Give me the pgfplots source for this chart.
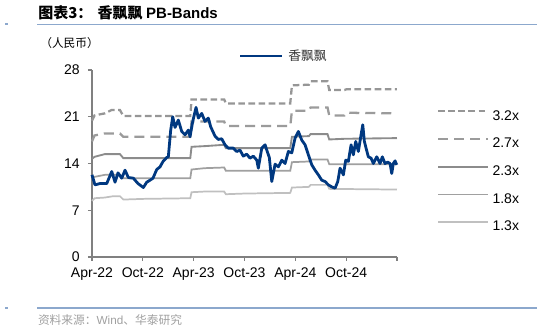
\documentclass[border=0pt]{standalone}
\usepackage{fontspec}
\usepackage{pgfplots}
\pgfplotsset{compat=1.18}
\setmainfont{Liberation Sans}
\newfontfamily\cjk{Noto Sans CJK SC}
\definecolor{navy}{RGB}{0,56,128}
\definecolor{bandA}{RGB}{150,150,150}
\definecolor{bandB}{RGB}{155,155,155}
\definecolor{bandC}{RGB}{140,140,140}
\definecolor{bandD}{RGB}{160,160,160}
\definecolor{bandE}{RGB}{192,192,192}
\definecolor{rulec}{RGB}{140,168,205}
\definecolor{srcgray}{RGB}{160,160,160}
\begin{document}
\begin{tikzpicture}
\path[use as bounding box] (0,0) rectangle (402.75pt,249pt);
\begin{axis}[
  at={(69pt,56.25pt)}, anchor=south west,
  scale only axis, width=228.75pt, height=140.25pt,
  xmin=0, xmax=36, ymin=0, ymax=28,
  axis x line*=bottom, axis y line*=left,
  axis line style={draw=gray, line width=0.9pt, -},
  tick style={draw=gray, line width=0.8pt},
  tick align=outside, major tick length=3pt,
  xtick={0,6,12,18,24,30,36},
  xticklabels={Apr-22,Oct-22,Apr-23,Oct-23,Apr-24,Oct-24,},
  ytick={0,7,14,21,28},
  tick label style={font=\fontsize{10.5}{12}\selectfont},
  yticklabel style={inner sep=0pt, xshift=-6pt},
  xticklabel style={inner sep=0pt, yshift=-5pt},
  /pgf/number format/assume math mode=true,
  clip=false,
  legend style={at={(1.131,0.786)}, anchor=north west, draw=none, fill=none,
    inner sep=0pt, outer sep=0pt, row sep=11.9pt, column sep=2.5pt,
    font=\fontsize{10.5}{12}\selectfont, nodes={inner sep=0pt}},
  legend cell align=left,
  legend image code/.code={\draw[#1] (0pt,3.75pt) -- (37.5pt,3.75pt);},
]
\addplot[bandA, line width=1.7pt, dash pattern=on 5pt off 2.6pt] coordinates {
(0,20.4)(0.3,21.2)(1.5,21.5)(2.3,22.0)(3.3,22.0)(3.7,21.1)(11.6,21.1)(11.75,23.6)(15.6,23.6)(15.8,23.0)(23.4,23.0)(23.6,25.7)(25.6,25.8)(25.8,26.3)(27.8,26.3)(28.0,25.0)(29.8,25.0)(30.0,25.1)(36,25.1)};
\addlegendentry{3.2x}
\addplot[bandB, line width=1.7pt, dash pattern=on 7.5pt off 4.5pt] coordinates {
(0,17.3)(0.3,18.2)(1.5,18.5)(3.3,18.5)(3.7,18.0)(11.6,18.0)(11.75,20.3)(15.6,20.3)(15.8,19.6)(23.4,19.6)(23.6,21.9)(25.6,21.9)(25.8,22.4)(27.8,22.4)(28,21.2)(29.8,21.2)(30,21.6)(36,21.5)};
\addlegendentry{2.7x}
\addplot[bandC, line width=1.4pt] coordinates {
(0,14.7)(0.3,15.0)(1.5,15.4)(3.3,15.4)(3.7,14.8)(11.6,14.8)(11.75,16.5)(13.3,16.6)(15.6,16.8)(15.8,16.3)(23.4,16.3)(23.6,18.0)(25.6,18.1)(25.8,18.4)(27.8,18.4)(28,17.6)(29.8,17.7)(36,17.8)};
\addlegendentry{2.3x}
\addplot[bandD, line width=1.3pt] coordinates {
(0,11.7)(0.3,12.0)(1.5,12.3)(3.3,12.3)(3.7,11.8)(11.6,11.8)(11.75,13.1)(13.3,13.3)(15.6,13.4)(15.8,12.9)(23.4,12.9)(23.6,14.2)(25.6,14.3)(25.8,14.6)(27.8,14.6)(28,13.9)(36,13.9)};
\addlegendentry{1.8x}
\addplot[bandE, line width=1.3pt] coordinates {
(0,8.4)(0.3,8.8)(1.5,8.9)(2.5,9.1)(3.3,9.1)(3.7,8.6)(6,8.7)(11.6,8.8)(11.75,9.7)(13.3,9.8)(15.6,9.8)(15.8,9.4)(18,9.5)(23.4,9.6)(23.6,10.4)(25.6,10.5)(25.8,10.8)(27.8,10.8)(28,10.2)(36,10.1)};
\addlegendentry{1.3x}
\addplot[navy, line width=2.1pt, forget plot, line join=round] coordinates {
(0,12.3)(0.35,10.8)(0.94,11.0)(1.74,11.0)(2.33,12.8)(2.72,11.2)(3.07,12.6)(3.51,11.8)(3.90,13.0)(4.29,11.9)(4.88,11.8)(5.43,11.0)(6.06,10.4)(6.46,11.2)(6.85,11.5)(7.20,11.8)(7.64,13.1)(8.03,13.5)(8.38,14.3)(8.82,14.9)(9.01,15.0)(9.29,19.0)(9.53,21.0)(9.80,19.4)(10.19,20.5)(10.59,18.8)(10.98,18.3)(11.37,19.0)(11.57,18.0)(11.89,20.3)(12.28,22.4)(12.55,20.8)(12.95,21.5)(13.34,20.3)(13.73,20.8)(14.01,19.5)(14.52,18.1)(14.91,17.6)(15.31,17.7)(15.70,16.8)(16.09,16.3)(16.68,16.3)(17.08,15.8)(17.47,16.0)(17.86,15.1)(18.26,15.4)(18.65,14.8)(19.04,15.1)(19.45,14.5)(19.63,13.3)(20.04,16.3)(20.43,16.8)(20.63,16.0)(20.93,14.9)(21.22,11.3)(21.61,13.9)(22.00,13.5)(22.40,14.5)(22.79,14.0)(23.18,15.8)(23.58,15.6)(23.97,17.8)(24.36,18.8)(24.76,17.5)(25.15,16.8)(25.54,15.3)(25.94,13.8)(26.33,13.0)(26.72,12.3)(27.12,11.5)(27.51,11.3)(27.90,10.8)(28.30,10.5)(28.69,10.3)(29.01,11.3)(29.28,13.3)(29.67,12.3)(29.95,14.5)(30.26,14.3)(30.58,16.8)(30.85,15.3)(31.13,17.3)(31.44,15.8)(31.72,18.0)(31.96,19.8)(32.15,17.3)(32.35,16.3)(32.62,15.0)(32.94,14.8)(33.21,14.0)(33.61,15.0)(34.00,14.0)(34.27,15.0)(34.59,14.0)(34.91,14.2)(35.18,14.0)(35.38,12.5)(35.57,14.0)(35.77,14.4)(35.97,13.8)};
\end{axis}
% series legend
\draw[navy, line width=2.1pt] (180pt,207pt) -- (211.5pt,207pt);
\node[anchor=west, inner sep=0pt, text=black!80] at (216pt,207pt) {\cjk\fontsize{9.6}{11}\selectfont 香飘飘};
% header
\node[anchor=west, inner sep=0pt] at (28.5pt,239.25pt) {\cjk\bfseries\fontsize{11.25}{13}\selectfont 图表3：\hspace{4pt}香飘飘 {\rmfamily\bfseries PB-Bands}};
\draw[rulec, line width=0.9pt] (27.75pt,230.6pt) -- (402.75pt,230.6pt);
\draw[rulec, line width=0.9pt] (3.75pt,231pt) -- (6pt,231pt);
\node[anchor=west, inner sep=0pt] at (30pt,216.75pt) {\cjk\fontsize{8.8}{10}\selectfont （人民币）};
% footer
\draw[rulec, line width=0.9pt] (27.75pt,18pt) -- (402.75pt,18pt);
\draw[rulec, line width=0.9pt] (3.75pt,18pt) -- (6pt,18pt);
\node[anchor=west, inner sep=0pt, text=srcgray] at (28.3pt,9pt) {\cjk\fontsize{8.8}{10}\selectfont 资料来源：{\rmfamily Wind}、华泰研究};
\end{tikzpicture}
\end{document}
